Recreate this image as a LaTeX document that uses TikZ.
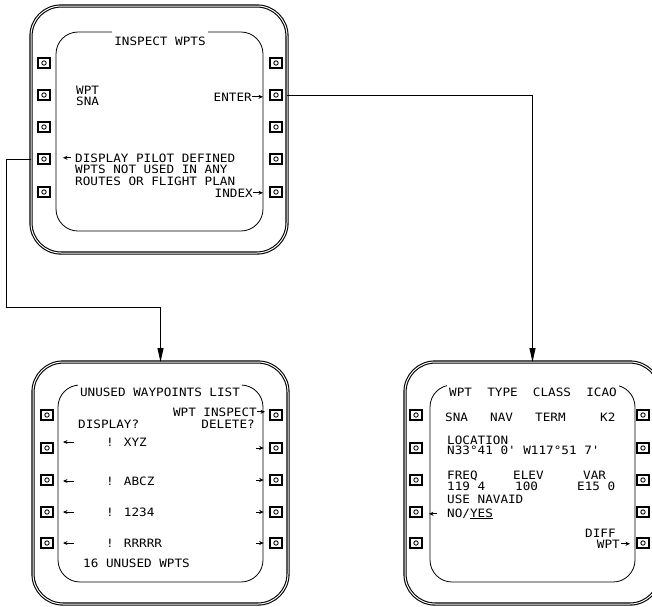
\documentclass[tikz,border=0pt]{standalone}
\usepackage{fontspec}
\newfontfamily\cdufont{DejaVu Sans Mono}[FakeStretch=1.1]
\usetikzlibrary{arrows.meta,positioning,calc}
\tikzset{
  bezel/.style={draw, double, double distance=1pt, line width=1.1pt,
                rounded corners=30pt, inner sep=0pt, outer sep=0pt,
                minimum width=255pt, minimum height=242pt},
  scrn/.style={draw, line width=0.8pt, rounded corners=22pt, inner sep=0pt,
               outer sep=0pt, minimum width=205pt, minimum height=197pt},
  btn/.style={draw, line width=1.6pt, minimum width=12pt, minimum height=10pt,
              inner sep=0pt,
              path picture={\draw[line width=0.9pt]
                (path picture bounding box.center) circle (2.2pt);}},
  txt/.style={font=\cdufont\fontsize{11.5}{13}\selectfont, inner sep=0pt},
  ttl/.style={txt, fill=white, inner xsep=2pt, inner ysep=4pt, text depth=0pt},
  sig/.style={-{Triangle[length=14pt,width=6pt]}, line width=0.9pt},
  ptr/.style={-{Stealth[length=4.5pt,width=4pt]}, line width=0.7pt},
}
\begin{document}
\begin{tikzpicture}[x=1pt,y=-1pt]
  \useasboundingbox (0,0) rectangle (652,606);
  % panels
  \node[bezel, minimum width=256pt, minimum height=247pt] (pa) at (159,129.5) {};
  \node[scrn, minimum width=207pt, minimum height=199pt] (sa) at (159.5,131.5) {};
  \node[bezel] (pb) at (160.5,483) {};
  \node[scrn] (sb) at (160.5,483.5) {};
  \node[bezel] (pc) at (532.5,483) {};
  \node[scrn] (sc) at (532.5,483.5) {};
  % line select keys
  \foreach \y [count=\i] in {63,95,127,159,192} {
    \node[btn] (al\i) at (44,\y) {};
    \node[btn] (ar\i) at (276,\y) {};
  }
  \foreach \y [count=\i] in {415,448,480,512,543} {
    \node[btn] (bl\i) at (47,\y) {};
    \node[btn] (br\i) at (276,\y) {};
    \node[btn] (cl\i) at (416,\y) {};
    \node[btn] (cr\i) at (643,\y) {};
    \coordinate (rt\i) at (256,\y);
  }

  % inspect wpts page
  \node[ttl, inner ysep=6.5pt, anchor=base] (tia) at (160,45) {INSPECT WPTS};
  \node[txt, anchor=base west] (wpa) at (76,94) {WPT};
  \node[txt, anchor=base west] (sna) at (76,105) {SNA};
  \node[txt, anchor=base east] (ent) at (252,101) {ENTER};
  \node[txt, anchor=base west] (dsp1) at (75,162) {DISPLAY PILOT DEFINED};
  \node[txt, anchor=base west] (dsp2) at (75,173.5) {WPTS NOT USED IN ANY};
  \node[txt, anchor=base west] (dsp3) at (75,185) {ROUTES OR FLIGHT PLAN};
  \node[txt, anchor=base east] (idx) at (253,197) {INDEX};
  \draw[ptr, shorten >=13pt] (ent) -- (ent -| ar2);
  \draw[ptr, shorten >=13pt] (idx) -- (idx -| ar5);
  \draw[ptr, shorten <=4pt, shorten >=19pt] (dsp1) -- (dsp1 -| al4);

  % unused waypoints list page
  \node[ttl, anchor=base] (tib) at (160,396) {UNUSED WAYPOINTS LIST};
  \node[txt, anchor=base east] (wins) at (257,416) {WPT INSPECT};
  \node[txt, anchor=base west] (dspq) at (78,428) {DISPLAY?};
  \node[txt, anchor=base east] (delq) at (255,428) {DELETE?};
  \foreach \y/\w [count=\i from 2] in {442/XYZ,481/ABCZ,512/1234,543/RRRRR} {
    \node[txt, anchor=base west] (row\i) at (106,\y+4) {! \w};
    \coordinate (lt\i) at (74,\y);
    \draw[ptr, shorten >=16pt] (lt\i) -- (lt\i -| bl\i);
    \draw[ptr, shorten >=5.5pt] (rt\i) -- (br\i);
  }
  \node[txt, anchor=base west] (nun) at (83,567) {16 UNUSED WPTS};
  \draw[ptr, shorten >=11pt] (wins) -- (wins -| br1);

  % waypoint data page
  \node[ttl, anchor=base west] (tic) at (447,396) {WPT~~TYPE~~CLASS~~ICAO};
  \node[txt, anchor=base west] (dwp) at (445,421) {SNA};
  \node[txt, anchor=base west] (dty) at (490,421) {NAV};
  \node[txt, anchor=base west] (dcl) at (535,421) {TERM};
  \node[txt, anchor=base west] (dic) at (600,421) {K2};
  \node[txt, anchor=base west] (loc) at (447,444) {LOCATION};
  \node[txt, anchor=base west] (pos) at (447,454) {N33°41 0' W117°51 7'};
  \node[txt, anchor=base west] (frq) at (447,479) {FREQ};
  \node[txt, anchor=base west] (frv) at (447,490) {119 4};
  \node[txt, anchor=base west] (elv) at (513,479) {ELEV};
  \node[txt, anchor=base west] (elx) at (515,490) {100};
  \node[txt, anchor=base west] (var) at (583,479) {VAR};
  \node[txt, anchor=base west] (vax) at (577,490) {E15 0};
  \node[txt, anchor=base west] (nav) at (447,503) {USE NAVAID};
  \node[txt, anchor=base west] (nyes) at (447,517) {NO/\underline{YES}};
  \node[txt, anchor=base west] (dif) at (585,537) {DIFF};
  \node[txt, anchor=base east] (dwpt) at (620,548) {WPT};
  \draw[ptr, shorten <=10pt, shorten >=13pt] (nyes) -- (nyes -| cl4);
  \draw[ptr, shorten <=1pt, shorten >=13pt] (dwpt) -- (dwpt -| cr5);

  % page links
  \coordinate (k1) at (6,307);
  \draw[sig] (pa.west |- al4) -| (k1) -| (pb.north);
  \draw[sig] (pa.east |- ar2) -| (pc.north);
\end{tikzpicture}
\end{document}
